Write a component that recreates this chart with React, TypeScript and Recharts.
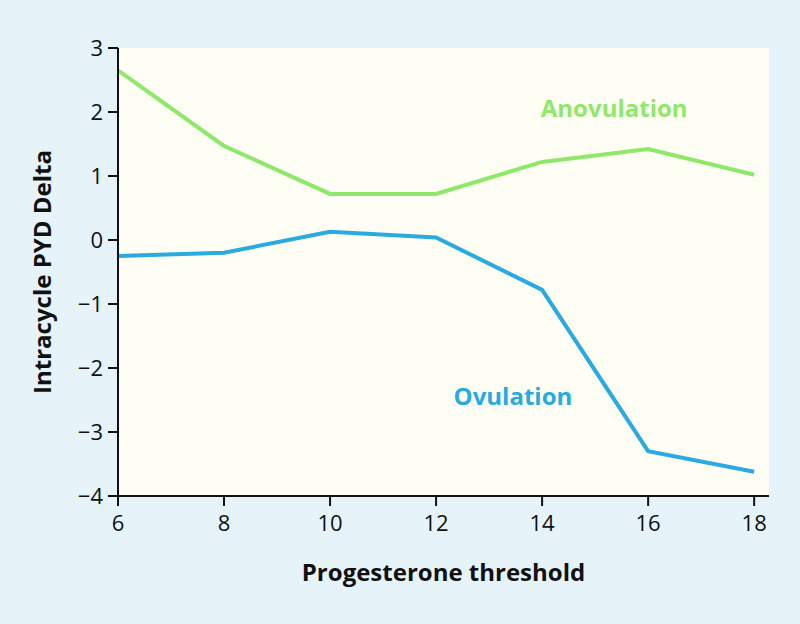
import { LineChart, Line, XAxis, YAxis, CartesianGrid, ReferenceDot } from 'recharts';

const thresholds = [6, 8, 10, 12, 14, 16, 18];
const anovulation = [2.65, 1.47, 0.72, 0.72, 1.22, 1.42, 1.02];
const ovulation = [-0.25, -0.2, 0.13, 0.04, -0.78, -3.3, -3.62];
const yTicks = [-4, -3, -2, -1, 0, 1, 2, 3];

const font = '"Open Sans", "Noto Sans", sans-serif';

const fmt = (v: number) => (v < 0 ? `\u2212${Math.abs(v)}` : `${v}`);

function XTick({ x, y, payload }: any) {
    return (
        <text x={x} y={y + 22} textAnchor="middle" fontSize={22} fill="#111" fontFamily={font}>
            {fmt(payload.value)}
        </text>
    );
}

function YTick({ x, y, payload }: any) {
    return (
        <text x={x - 1} y={y + 8} textAnchor="end" fontSize={22} fill="#111" fontFamily={font}>
            {fmt(payload.value)}
        </text>
    );
}

export default function App() {
    const data = thresholds.map((t, i) => ({ t, anov: anovulation[i], ov: ovulation[i] }));

    return (
        <div style={{ position: 'fixed', left: 0, top: 0, width: 800, height: 624, background: '#e6f4f9', fontFamily: font }}>
            <LineChart width={800} height={624} data={data} margin={{ top: 48, right: 31, bottom: 88, left: 58 }}>
                <CartesianGrid fill="#fefef5" stroke="none" horizontal={false} vertical={false} />
                <XAxis
                    dataKey="t" type="number" domain={[6, 18.28]} ticks={thresholds}
                    height={40} stroke="#111" strokeWidth={2} tickSize={10} tickMargin={3}
                    tick={<XTick />}
                    label={{ value: 'Progesterone threshold', position: 'bottom', offset: 28, style: { fontSize: 24, fontWeight: 700, fill: '#111', fontFamily: font } }}
                />
                <YAxis
                    type="number" domain={[-4, 3]} ticks={yTicks} width={60}
                    stroke="#111" strokeWidth={2} tickSize={10} tickMargin={4}
                    tick={<YTick />}
                    label={{ value: 'Intracycle PYD Delta', angle: -90, position: 'insideLeft', offset: -16, style: { textAnchor: 'middle', fontSize: 24, fontWeight: 700, fill: '#111', fontFamily: font } }}
                />
                <Line type="linear" dataKey="anov" stroke="#8ee86a" strokeWidth={4} dot={false} isAnimationActive={false} />
                <Line type="linear" dataKey="ov" stroke="#29aae1" strokeWidth={4} dot={false} isAnimationActive={false} />
                <ReferenceDot x={15.36} y={2.06} r={0} stroke="none"
                    label={{ value: 'Anovulation', position: 'center', style: { fontSize: 24, fontWeight: 700, fill: '#8ee86a', fontFamily: font } }} />
                <ReferenceDot x={13.45} y={-2.45} r={0} stroke="none"
                    label={{ value: 'Ovulation', position: 'center', style: { fontSize: 24, fontWeight: 700, fill: '#29aae1', fontFamily: font } }} />
            </LineChart>
        </div>
    );
}
